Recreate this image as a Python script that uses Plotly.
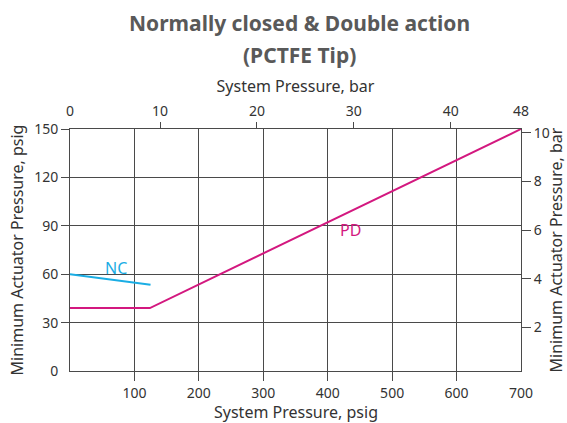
import plotly.graph_objects as go

# Minimum actuator pressure vs. system pressure (PCTFE tip)
nc_psig_x = [0, 125]
nc_psig_y = [60, 53.5]
pd_psig_x = [0, 124, 700]
pd_psig_y = [39, 39, 150]

bottom_ticks = [100, 200, 300, 400, 500, 600]
bottom_edge_tick = [700]
left_ticks = [30, 60, 90, 120, 150]
left_edge_tick = [0]
right_ticks = [2, 4, 6, 8, 10]
top_ticks = [10, 20, 30, 40]
top_edge_ticks = [0, 48]

NC_COLOR = "#1AADE4"
PD_COLOR = "#D3187F"
GRID = "#4a4a4a"
TXT = "#333333"
FONT = "Noto Sans"

W, H = 567, 423
ML, MR, MT, MB = 70, 46, 129, 52

fig = go.Figure()
fig.add_trace(go.Scatter(x=nc_psig_x, y=nc_psig_y, mode="lines",
                         line=dict(color=NC_COLOR, width=2), hoverinfo="skip"))
fig.add_trace(go.Scatter(x=pd_psig_x, y=pd_psig_y, mode="lines",
                         line=dict(color=PD_COLOR, width=2), hoverinfo="skip"))
# anchor traces so the secondary axes get drawn
for xa, ya in [("x2", "y"), ("x3", "y"), ("x4", "y"), ("x", "y2"), ("x", "y3")]:
    fig.add_trace(go.Scatter(x=[None], y=[None], xaxis=xa, yaxis=ya,
                             showlegend=False, hoverinfo="skip"))

tick_font = dict(family=FONT, size=14, color=TXT)
title_font = dict(family=FONT, size=16, color=TXT)

fig.update_layout(
    width=W, height=H,
    margin=dict(l=ML, r=MR, t=MT, b=MB, autoexpand=False),
    paper_bgcolor="white", plot_bgcolor="white",
    showlegend=False,
    xaxis=dict(range=[0, 700], tickvals=bottom_ticks, ticks="outside", ticklen=9,
               tickcolor=GRID, showgrid=True, gridcolor=GRID, gridwidth=1,
               showline=True, linecolor=GRID, linewidth=1, mirror=True,
               zeroline=False, tickfont=tick_font, automargin=False),
    xaxis4=dict(range=[0, 700], overlaying="x", side="bottom", anchor="y",
                tickvals=bottom_edge_tick, ticks="outside", ticklen=9,
                tickcolor="rgba(0,0,0,0)", showgrid=False, showline=False,
                zeroline=False, tickfont=tick_font, automargin=False),
    xaxis2=dict(range=[0.7, 47.25], overlaying="x", side="top", anchor="y",
                tickvals=top_ticks, ticks="outside", ticklen=6, tickcolor=GRID,
                showgrid=False, showline=False, zeroline=False, tickfont=tick_font,
                automargin=False,
                title=dict(text="System Pressure, bar", font=title_font, standoff=4)),
    xaxis3=dict(range=[0, 48], overlaying="x", side="top", anchor="y",
                tickvals=top_edge_ticks, ticks="outside", ticklen=6,
                tickcolor="rgba(0,0,0,0)", showgrid=False, showline=False,
                zeroline=False, tickfont=tick_font, automargin=False),
    yaxis=dict(range=[0, 150], tickvals=left_ticks, ticks="outside", ticklen=8,
               tickcolor=GRID, showgrid=True, gridcolor=GRID, gridwidth=1,
               showline=True, linecolor=GRID, linewidth=1, mirror=True,
               zeroline=False, tickfont=tick_font, automargin=False,
               title=dict(text="Minimum Actuator Pressure, psig", font=title_font, standoff=6)),
    yaxis3=dict(range=[0, 150], overlaying="y", side="left", anchor="x",
                tickvals=left_edge_tick, ticks="outside", ticklen=8,
                tickcolor="rgba(0,0,0,0)", showgrid=False, showline=False,
                zeroline=False, tickfont=tick_font, automargin=False),
    yaxis2=dict(range=[0.21, 10.16], overlaying="y", side="right", anchor="x",
                tickvals=right_ticks, ticks="outside", ticklen=9, tickcolor=GRID,
                showgrid=False, showline=False, zeroline=False, tickfont=tick_font,
                automargin=False,
                title=dict(text="Minimum Actuator Pressure, bar", font=title_font, standoff=6)),
)

fig.add_annotation(text="NC", x=72, y=63.6, xref="x", yref="y", showarrow=False,
                   font=dict(family=FONT, size=16, color=NC_COLOR))
fig.add_annotation(text="PD", x=435, y=87.3, xref="x", yref="y", showarrow=False,
                   font=dict(family=FONT, size=16, color=PD_COLOR))

plot_w = W - ML - MR
plot_h = H - MT - MB

# bottom axis title, placed by pixel position from the top of the page
fig.add_annotation(text="System Pressure, psig", x=0.5, y=(H - MB - 412) / plot_h,
                   xref="paper", yref="paper", xanchor="center", yanchor="middle",
                   showarrow=False, font=title_font)

# two-line heading
for line, px_y in [("<b>Normally closed & Double action</b>", 23),
                   ("<b>(PCTFE Tip)</b>", 55)]:
    fig.add_annotation(text=line, x=(299 - ML) / plot_w, y=(H - MB - px_y) / plot_h,
                       xref="paper", yref="paper", xanchor="center", yanchor="middle",
                       showarrow=False,
                       font=dict(family=FONT, size=21, color="#595959"))

fig.write_html("out.html")
